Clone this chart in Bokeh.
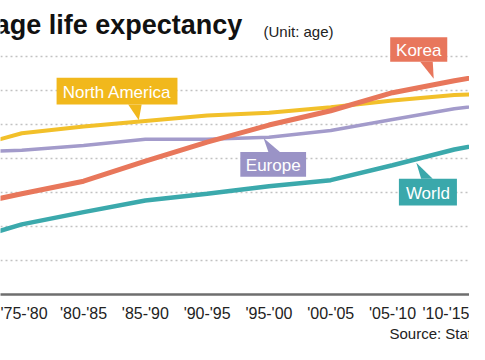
from bokeh.plotting import figure
from bokeh.models import Range1d, Label, Grid, FixedTicker
from bokeh.embed import file_html
from bokeh.resources import INLINE

# ---- data ----
periods = ["'70-'75", "'75-'80", "'80-'85", "'85-'90", "'90-'95",
           "'95-'00", "'00-'05", "'05-'10", "'10-'15", "'15-'20"]
korea = [62.9, 64.8, 66.65, 69.6, 72.4, 74.9, 77.0, 79.65, 81.4, 83.0]
north_america = [71.2, 73.7, 74.7, 75.5, 76.3, 76.7, 77.5, 78.5, 79.3, 79.6]
europe = [70.9, 71.2, 71.9, 72.8, 72.8, 73.1, 74.1, 75.7, 77.3, 78.4]
world = [57.6, 60.3, 62.1, 63.8, 64.8, 65.9, 66.8, 69.0, 71.3, 73.0]
grid_values = [55, 60, 65, 70, 75, 80, 85]

# ---- layout ----
W, H = 469, 344
FH = 297                      # frame height (axis line at y = 297 px)
BOTTOM = H - FH
REF_W = 485                   # width of the original drawing, squeezed into W
XR = (0.6557, 8.2457)
YR = (50, 93.2)
FONT = "'Liberation Sans', Arial, sans-serif"


def dx(px):  # original-drawing pixel x -> data x
    return XR[0] + px * (XR[1] - XR[0]) / REF_W


def dy(py):  # pixel y (from top) -> data y
    return YR[0] + (FH - py) * (YR[1] - YR[0]) / FH


x = list(range(len(periods)))

p = figure(width=W, height=H, x_range=Range1d(*XR), y_range=Range1d(*YR),
           output_backend="svg", toolbar_location=None, y_axis_location=None,
           min_border_left=0, min_border_right=0, min_border_top=0,
           min_border_bottom=BOTTOM)
p.outline_line_color = None
p.background_fill_color = "white"
p.border_fill_color = "white"
p.xgrid.visible = False
p.ygrid.visible = False

grid = Grid(dimension=1, ticker=FixedTicker(ticks=grid_values),
            grid_line_color="#c2c2c2", grid_line_width=1.4,
            grid_line_dash="2 3")
p.add_layout(grid)

inside = [i for i in x if XR[0] < i < XR[1]]
ax = p.xaxis[0]
ax.ticker = FixedTicker(ticks=inside)
ax.major_label_overrides = {i: periods[i] for i in inside}
ax.major_tick_line_color = None
ax.major_tick_out = 0
ax.major_tick_in = 0
ax.minor_tick_line_color = None
ax.minor_tick_out = 0
ax.axis_line_color = "#6e6e6e"
ax.axis_line_width = 2.5
ax.major_label_standoff = 10
ax.major_label_text_font = FONT
ax.major_label_text_font_size = "16px"
ax.major_label_text_color = "#222222"
ax.axis_label = "Source: Statistics Korea"
ax.axis_label_align = "end"
ax.axis_label_standoff = 0
ax.axis_label_text_font = FONT
ax.axis_label_text_font_style = "normal"
ax.axis_label_text_font_size = "15px"
ax.axis_label_text_color = "#222222"

# ---- lines ----
p.line(x, world, line_color="#3ba9ac", line_width=4.5)
p.line(x, europe, line_color="#a39bcb", line_width=3.5)
p.line(x, north_america, line_color="#f2c02a", line_width=4)
p.line(x, korea, line_color="#e8775b", line_width=5)

# ---- callouts: text, box [x0, x1, y0, y1] in px, pointer triangle in px, colour
callouts = [
    ("North America", (58, 183, 78, 105), [(132, 105), (146, 105), (143, 121)], "#f1b81c"),
    ("Korea", (403, 462, 37, 62), [(434, 62), (447, 62), (448, 79)], "#e8765c"),
    ("Europe", (248, 316, 153, 178), [(277, 153), (289, 153), (272, 139)], "#9a93c6"),
    ("World", (412, 472, 180, 207), [(435, 180), (447, 180), (430, 164)], "#3aa8ab"),
]
for text, (x0, x1, y0, y1), tri, col in callouts:
    p.quad(left=[dx(x0)], right=[dx(x1)], top=[dy(y0)], bottom=[dy(y1)],
           fill_color=col, line_color=None)
    p.patch([dx(a) for a, b in tri], [dy(b) for a, b in tri],
            fill_color=col, line_color=None)
    p.add_layout(Label(x=dx((x0 + x1) / 2), y=dy((y0 + y1) / 2 + 1), text=text,
                       text_align="center", text_baseline="middle",
                       text_font=FONT, text_font_size="17px",
                       text_color="white"))

# ---- titles ----
p.add_layout(Label(x=dx(250), y=dy(25), text="Average life expectancy",
                   text_align="right", text_baseline="alphabetic",
                   text_font=FONT, text_font_style="bold",
                   text_font_size="27px", text_color="#111111"))
p.add_layout(Label(x=dx(272), y=dy(31), text="(Unit: age)",
                   text_align="left", text_baseline="alphabetic",
                   text_font=FONT, text_font_size="15px",
                   text_color="#222222"))

open("out.html", "w").write(file_html(p, INLINE))
